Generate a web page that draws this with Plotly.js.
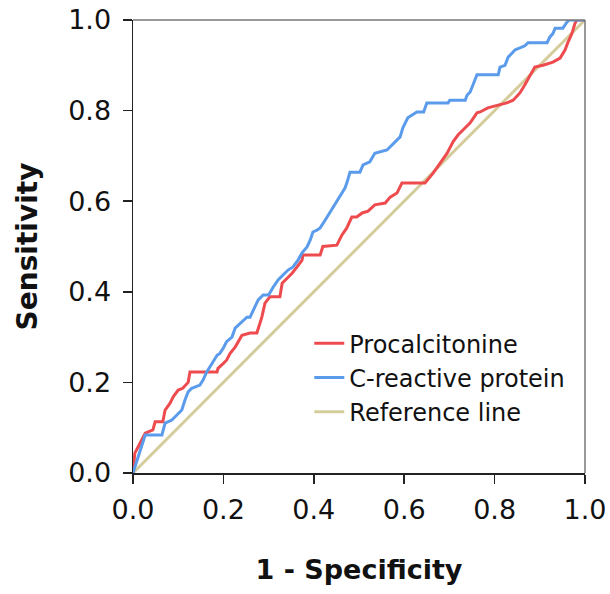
<!DOCTYPE html>
<html><head><meta charset="utf-8">
<script src="https://cdn.plot.ly/plotly-3.0.1.min.js"></script>
<style>body{margin:0;background:#fff}#c{width:610px;height:594px}</style>
</head><body><div id="c"></div>
<script>
const pctX = [0,0.004,0.011,0.022,0.027,0.044,0.049,0.066,0.071,0.082,0.089,0.1,0.11,0.122,0.126,0.186,0.188,0.2,0.207,0.215,0.226,0.233,0.241,0.259,0.274,0.281,0.285,0.292,0.303,0.325,0.33,0.341,0.352,0.363,0.374,0.376,0.414,0.42,0.451,0.462,0.473,0.484,0.495,0.507,0.52,0.535,0.558,0.569,0.584,0.595,0.646,0.664,0.679,0.695,0.708,0.719,0.735,0.746,0.761,0.768,0.785,0.805,0.827,0.841,0.856,0.867,0.883,0.889,0.907,0.929,0.945,0.956,0.962,0.971,0.978,0.982,1];
const pctY = [0,0.044,0.057,0.08,0.088,0.095,0.113,0.113,0.139,0.154,0.168,0.183,0.187,0.2,0.223,0.223,0.231,0.242,0.249,0.264,0.278,0.29,0.304,0.309,0.309,0.331,0.344,0.375,0.389,0.389,0.419,0.43,0.441,0.455,0.47,0.481,0.481,0.5,0.503,0.525,0.541,0.565,0.565,0.574,0.578,0.592,0.596,0.609,0.618,0.64,0.64,0.662,0.684,0.706,0.731,0.746,0.762,0.773,0.795,0.797,0.806,0.812,0.817,0.823,0.839,0.857,0.885,0.896,0.9,0.907,0.916,0.934,0.95,0.97,0.993,1,1];
const crpX = [0,0.009,0.015,0.022,0.027,0.064,0.071,0.086,0.097,0.108,0.115,0.122,0.13,0.148,0.155,0.163,0.17,0.177,0.186,0.192,0.2,0.207,0.219,0.226,0.237,0.252,0.259,0.277,0.288,0.3,0.31,0.321,0.332,0.343,0.354,0.365,0.374,0.385,0.392,0.398,0.407,0.414,0.425,0.436,0.447,0.454,0.462,0.469,0.473,0.48,0.502,0.509,0.524,0.535,0.562,0.591,0.597,0.608,0.628,0.643,0.65,0.697,0.701,0.735,0.739,0.746,0.761,0.808,0.812,0.823,0.83,0.838,0.845,0.852,0.867,0.874,0.916,0.922,0.929,0.934,0.951,0.96,0.965,1];
const crpY = [0,0.029,0.044,0.066,0.084,0.084,0.11,0.117,0.128,0.139,0.161,0.179,0.187,0.194,0.205,0.223,0.234,0.245,0.26,0.264,0.276,0.29,0.3,0.32,0.331,0.344,0.344,0.382,0.393,0.393,0.41,0.426,0.437,0.448,0.455,0.47,0.486,0.499,0.514,0.532,0.536,0.541,0.558,0.576,0.592,0.603,0.618,0.629,0.64,0.664,0.664,0.68,0.687,0.706,0.713,0.742,0.762,0.784,0.797,0.797,0.817,0.817,0.823,0.823,0.834,0.841,0.879,0.879,0.896,0.9,0.918,0.926,0.934,0.937,0.943,0.95,0.95,0.962,0.97,0.982,0.982,0.995,1,1];
const refX = [0,1];
const refY = [0,1];
const names = ['Procalcitonine','C-reactive protein','Reference line'];

const F = 'DejaVu Sans, sans-serif';
const data = [
  {x: refX, y: refY, name: names[2], mode:'lines', line:{color:'#D5CC9B', width:3}, legendrank:3},
  {x: pctX, y: pctY, name: names[0], mode:'lines', line:{color:'#EE4B4F', width:3}, legendrank:1},
  {x: crpX, y: crpY, name: names[1], mode:'lines', line:{color:'#5A9BEB', width:3}, legendrank:2}
];
const ax = {
  range:[0,1], tickvals:[0,0.2,0.4,0.6,0.8,1], ticktext:['0.0','0.2','0.4','0.6','0.8','1.0'],
  ticks:'outside', ticklen:9, tickwidth:1.5, tickcolor:'#222',
  showline:true, linecolor:'#222', linewidth:1.5, showgrid:false, zeroline:false,
  tickfont:{family:F, size:27, color:'#111'}, fixedrange:true
};
const layout = {
  width:610, height:594, paper_bgcolor:'#fff', plot_bgcolor:'#fff',
  margin:{l:133, r:25, t:20, b:121},
  showlegend:true,
  legend:{x:0.39, y:0.335, xanchor:'left', yanchor:'top', bgcolor:'rgba(0,0,0,0)',
    font:{family:F, size:24, color:'#111'}, itemwidth:30, tracegroupgap:0},
  xaxis: Object.assign({}, ax, {ticklabelstandoff:3, title:{text:'1 - Specificity', font:{family:F, size:27, color:'#111', weight:'bold'}, standoff:36}}),
  yaxis: Object.assign({}, ax, {ticklabelstandoff:6, title:{text:'Sensitivity', font:{family:F, size:28, color:'#111', weight:'bold'}, standoff:22}}),
  shapes:[
    {type:'line', xref:'paper', yref:'paper', x0:0, x1:1, y0:1, y1:1, line:{color:'#777', width:1.5}},
    {type:'line', xref:'paper', yref:'paper', x0:1, x1:1, y0:0, y1:1, line:{color:'#777', width:1.5}}
  ]
};
Plotly.newPlot('c', data, layout, {displayModeBar:false, staticPlot:true});
</script></body></html>
